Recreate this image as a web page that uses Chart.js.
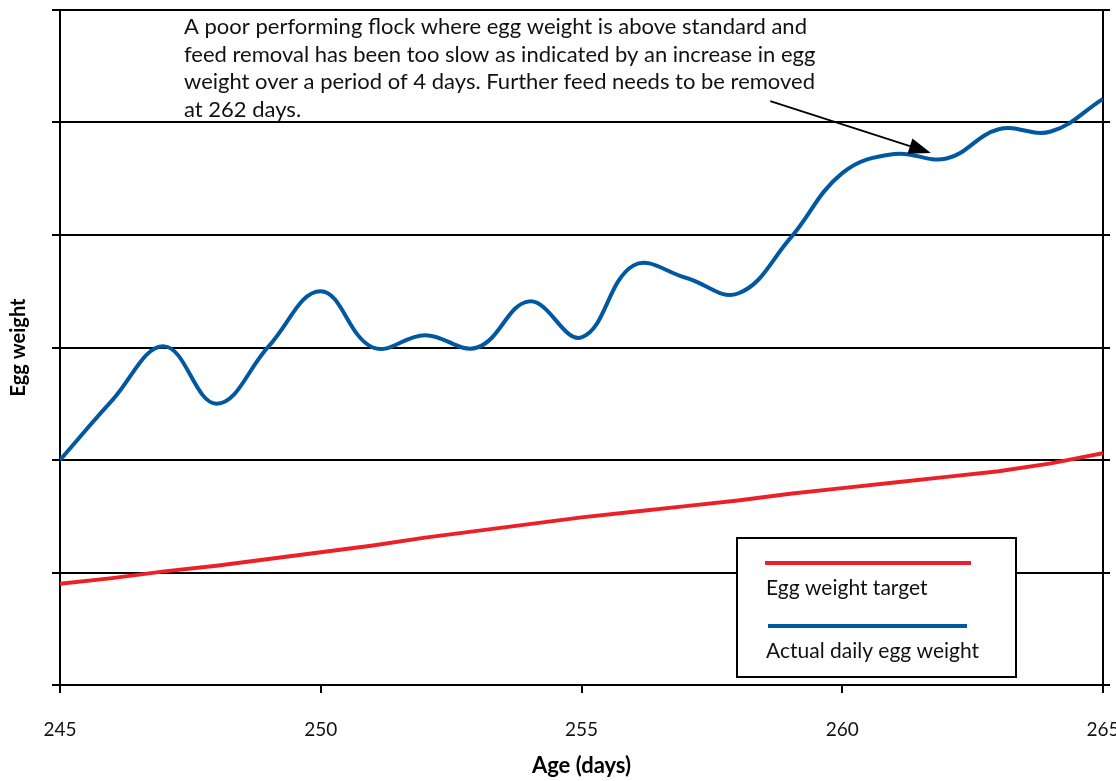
<!DOCTYPE html>
<html>
<head>
<meta charset="utf-8">
<title>Egg weight</title>
<script src="https://cdn.jsdelivr.net/npm/chart.js@4.4.1/dist/chart.umd.min.js"></script>
<style>
  html, body { margin: 0; padding: 0; background: #fff; overflow: hidden; }
  #wrap { width: 1116px; height: 781px; }
  canvas { display: block; }
</style>
</head>
<body>
<div id="wrap"><canvas id="grafica" width="1116" height="781"></canvas></div>
<script>
// age in days, one point per day
const ages = [245, 246, 247, 248, 249, 250, 251, 252, 253, 254, 255,
              256, 257, 258, 259, 260, 261, 262, 263, 264, 265];
const targetWeight = [0.90, 0.95, 1.01, 1.06, 1.12, 1.18, 1.24, 1.31, 1.37, 1.43, 1.49,
                      1.54, 1.59, 1.64, 1.70, 1.75, 1.80, 1.85, 1.90, 1.97, 2.06];
const actualWeight = [2.00, 2.53, 3.01, 2.50, 3.01, 3.50, 3.00, 3.11, 3.00, 3.41, 3.09,
                      3.73, 3.62, 3.48, 3.97, 4.55, 4.72, 4.68, 4.94, 4.92, 5.21];
const ageTicks = [245, 250, 255, 260, 265];
const weightTicks = [0, 1, 2, 3, 4, 5, 6];
const seriesNames = ['Egg weight target', 'Actual daily egg weight'];
const noteLines = [
  'A poor performing flock where egg weight is above standard and',
  'feed removal has been too slow as indicated by an increase in egg',
  'weight over a period of 4 days. Further feed needs to be removed',
  'at 262 days.'
];
// arrow from the note to the curve, in data units [age, weight]
const arrowFrom = [258.62, 5.19];
const arrowTo = [261.7, 4.73];

const FONT = 'Lato, "Open Sans", sans-serif';

// note text + arrow
const notePlugin = {
  id: 'note',
  afterDraw(chart) {
    const ctx = chart.ctx;
    const x = chart.scales.x, y = chart.scales.y;
    ctx.save();
    ctx.fillStyle = '#111';
    ctx.font = '22px ' + FONT;
    ctx.textBaseline = 'alphabetic';
    noteLines.forEach((t, i) => ctx.fillText(t, 184, 34 + i * 27.5));

    const x0 = x.getPixelForValue(arrowFrom[0]), y0 = y.getPixelForValue(arrowFrom[1]);
    const x1 = x.getPixelForValue(arrowTo[0]), y1 = y.getPixelForValue(arrowTo[1]);
    const a = Math.atan2(y1 - y0, x1 - x0);
    const len = 22, half = 8;
    const bx = x1 - len * Math.cos(a), by = y1 - len * Math.sin(a);
    ctx.strokeStyle = '#000';
    ctx.lineWidth = 1.6;
    ctx.beginPath();
    ctx.moveTo(x0, y0);
    ctx.lineTo(bx, by);
    ctx.stroke();
    ctx.fillStyle = '#000';
    ctx.beginPath();
    ctx.moveTo(x1, y1);
    ctx.lineTo(bx + half * Math.sin(a), by - half * Math.cos(a));
    ctx.lineTo(bx - half * Math.sin(a), by + half * Math.cos(a));
    ctx.closePath();
    ctx.fill();
    ctx.restore();
  }
};

// boxed legend, sample line above each label
const boxLegend = {
  id: 'boxLegend',
  afterDraw(chart) {
    const ctx = chart.ctx;
    const box = {left: 737, top: 538, right: 1016, bottom: 677};
    ctx.save();
    ctx.fillStyle = '#fff';
    ctx.fillRect(box.left, box.top, box.right - box.left, box.bottom - box.top);
    ctx.strokeStyle = '#000';
    ctx.lineWidth = 2;
    ctx.strokeRect(box.left, box.top, box.right - box.left, box.bottom - box.top);
    chart.data.datasets.forEach((ds, i) => {
      const ly = 563 + i * 63;
      ctx.strokeStyle = ds.borderColor;
      ctx.lineWidth = 4;
      ctx.beginPath();
      ctx.moveTo(765 + i * 3, ly);
      ctx.lineTo(971 - i * 4, ly);
      ctx.stroke();
      ctx.fillStyle = '#111';
      ctx.font = '21px ' + FONT;
      ctx.textBaseline = 'alphabetic';
      ctx.fillText(ds.label, 766, ly + 32);
    });
    ctx.restore();
  }
};

const data = {
  datasets: [{
    label: seriesNames[0],
    data: ages.map((a, i) => ({x: a, y: targetWeight[i]})),
    borderColor: 'rgb(236, 32, 40)',
    borderWidth: 4,
    pointRadius: 0,
    tension: 0
  }, {
    label: seriesNames[1],
    data: ages.map((a, i) => ({x: a, y: actualWeight[i]})),
    borderColor: 'rgb(0, 88, 160)',
    borderWidth: 4,
    pointRadius: 0,
    tension: 0.4
  }]
};

const weightAxis = (side, width, tick) => ({
  position: side,
  min: 0,
  max: 6,
  afterBuildTicks: s => { s.ticks = weightTicks.map(v => ({value: v})); },
  afterFit: s => { s.width = width; },
  grid: {drawOnChartArea: side === 'left', color: '#000', lineWidth: 2, tickLength: tick},
  border: {color: '#000', width: 2},
  ticks: {display: false}
});

const config = {
  type: 'line',
  data: data,
  plugins: [notePlugin, boxLegend],
  options: {
    responsive: false,
    animation: false,
    layout: {padding: {top: 10}},
    plugins: {legend: {display: false}, tooltip: {enabled: false}},
    scales: {
      x: {
        type: 'linear',
        position: 'bottom',
        min: 245,
        max: 265,
        afterBuildTicks: s => { s.ticks = ageTicks.map(v => ({value: v})); },
        afterFit: s => { s.height = 96; s.paddingLeft = 0; s.paddingRight = 0; },
        grid: {drawOnChartArea: false, color: '#000', lineWidth: 2, tickLength: 8},
        border: {color: '#000', width: 2},
        ticks: {color: '#111', padding: 25, maxRotation: 0, font: {family: FONT, size: 19}},
        title: {display: true, text: 'Age (days)', color: '#000',
                padding: {top: 0, bottom: 2}, font: {family: FONT, size: 22, weight: 'bold'}}
      },
      y: Object.assign(weightAxis('left', 60, 8), {
        title: {display: true, text: 'Egg weight', color: '#000',
                padding: {top: 7, bottom: 0}, font: {family: FONT, size: 20, weight: 'bold'}}
      }),
      y2: weightAxis('right', 13, 7)
    }
  }
};

new Chart(document.getElementById('grafica'), config);
</script>
</body>
</html>
